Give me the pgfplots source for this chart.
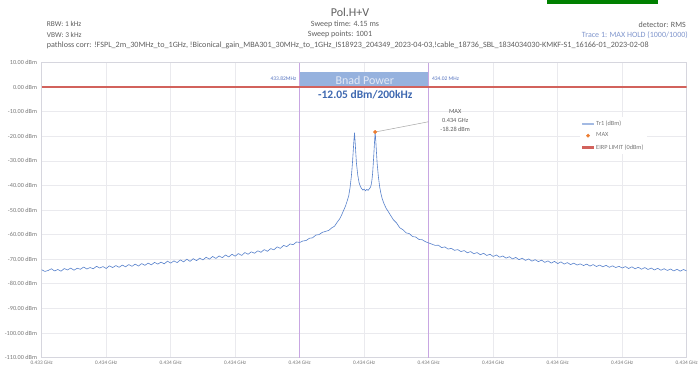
\documentclass[border=0pt]{standalone}
\usepackage{fontspec}
\setmainfont{Carlito}
\usepackage{pgfplots}
\pgfplotsset{compat=1.18}

\definecolor{txtgray}{RGB}{95,95,95}
\definecolor{tickgray}{RGB}{120,120,120}
\definecolor{axisgray}{RGB}{214,214,222}
\definecolor{gridgray}{RGB}{234,234,238}
\definecolor{tracecol}{RGB}{88,130,204}
\definecolor{markorange}{RGB}{237,125,49}
\definecolor{limitred}{RGB}{210,98,92}
\definecolor{bandpurple}{RGB}{200,166,226}
\definecolor{boxblue}{RGB}{150,178,222}
\definecolor{boxtext}{RGB}{228,234,246}
\definecolor{powerblue}{RGB}{62,104,176}
\definecolor{freqblue}{RGB}{86,116,192}
\definecolor{tracelabel}{RGB}{128,150,205}
\definecolor{barGreen}{RGB}{0,128,0}

% Trace 1, max hold; x = offset in kHz above the 433.42 MHz start frequency
\pgfplotstableread{
f    p
0    -74.3
5    -75.0
10   -74.6
15   -73.9
20   -74.8
25   -74.2
30   -74.9
35   -73.8
40   -74.4
45   -73.6
50   -74.5
55   -73.7
60   -74.1
65   -73.2
70   -74.0
75   -73.4
80   -73.9
85   -72.9
90   -73.6
95   -73.0
100  -73.8
105  -72.7
110  -73.4
115  -72.6
120  -73.3
125  -72.4
130  -73.1
135  -72.2
140  -72.9
145  -72.0
150  -72.8
155  -71.8
160  -72.5
165  -71.6
170  -72.3
175  -71.3
180  -72.0
185  -71.2
190  -71.9
195  -70.8
200  -71.6
205  -70.7
210  -71.4
215  -70.3
220  -71.1
225  -70.0
230  -70.9
235  -69.8
240  -70.6
245  -69.6
250  -70.3
255  -69.2
260  -70.0
265  -68.9
270  -69.7
275  -68.7
280  -69.4
285  -68.3
290  -69.1
295  -68.0
300  -68.8
305  -67.7
310  -68.5
315  -67.3
320  -68.0
325  -67.0
330  -67.6
335  -66.6
340  -67.2
345  -66.1
350  -66.8
355  -65.7
360  -66.2
365  -65.0
370  -65.6
375  -64.4
380  -64.9
385  -63.8
390  -64.1
395  -63.0
400  -63.2
405  -62.6
410  -62.4
415  -61.5
420  -61.3
425  -60.2
430  -60.0
435  -59.1
440  -58.7
445  -58.3
450  -57.2
454  -56.6
458  -55.0
462  -53.6
465  -52.0
468  -50.2
471  -48.4
474  -46.0
476  -44.2
478  -41.0
480  -36.5
481  -33.5
482  -30.0
483  -26.0
484  -21.8
485  -18.6
486  -22.5
487  -27.0
488  -31.0
490  -35.8
492  -38.8
494  -40.4
496  -41.3
498  -41.9
500  -41.5
502  -42.2
504  -41.6
506  -42.0
508  -41.4
510  -40.6
511  -39.5
512  -37.8
513  -35.2
514  -31.4
515  -27.0
516  -22.3
517  -18.28
518  -22.0
519  -26.5
520  -30.8
522  -36.5
524  -40.6
526  -43.4
528  -45.5
531  -47.6
534  -49.3
537  -50.5
540  -51.8
545  -53.9
550  -55.2
555  -57.2
560  -58.0
565  -59.3
570  -59.6
575  -60.8
580  -61.0
585  -62.0
590  -62.1
595  -62.9
600  -63.4
605  -63.9
610  -64.4
615  -64.3
620  -65.3
625  -65.0
630  -65.9
635  -65.6
640  -66.4
645  -66.1
650  -66.9
655  -66.5
660  -67.4
665  -66.9
670  -67.8
675  -67.3
680  -68.2
685  -67.6
690  -68.5
695  -68.0
700  -68.9
705  -68.3
710  -69.2
715  -68.7
720  -69.6
725  -69.0
730  -69.9
735  -69.3
740  -70.2
745  -69.6
750  -70.5
755  -69.9
760  -70.8
765  -70.2
770  -71.0
775  -70.4
780  -71.3
785  -70.7
790  -71.6
795  -70.9
800  -71.8
805  -71.1
810  -72.0
815  -71.4
820  -72.2
825  -71.6
830  -72.4
835  -71.9
840  -72.6
845  -72.0
850  -72.8
855  -72.2
860  -73.0
865  -72.4
870  -73.1
875  -72.5
880  -73.3
885  -72.7
890  -73.4
895  -72.9
900  -73.6
905  -73.0
910  -73.8
915  -73.1
920  -73.9
925  -73.3
930  -74.1
935  -73.4
940  -74.2
945  -73.6
950  -74.4
955  -73.7
960  -74.5
965  -73.9
970  -74.6
975  -74.0
980  -74.8
985  -74.1
990  -74.9
995  -74.2
1000 -74.8
}\tracedata

\begin{document}
\begin{tikzpicture}
\useasboundingbox (0pt,0pt) rectangle (698pt,368pt);
\fill[white] (0pt,0pt) rectangle (698pt,368pt);
\fill[barGreen] (546.7pt,364pt) rectangle (658.3pt,368pt);

% header block
\node[inner sep=0pt, text=txtgray, font=\fontsize{12}{14}\selectfont] at (350pt,355.5pt) {Pol.H+V};
\begin{scope}[every node/.style={inner sep=0pt, text=txtgray, font=\fontsize{8}{9}\selectfont}]
\node at (345pt,343.7pt) {Sweep time: 4.15 ms};
\node at (340pt,333.2pt) {Sweep points: 1001};
\node[anchor=west, font=\fontsize{7.4}{9}\selectfont] at (46.7pt,343.7pt) {RBW: 1 kHz};
\node[anchor=west, font=\fontsize{7.4}{9}\selectfont] at (46.7pt,333.2pt) {VBW: 3 kHz};
\node[anchor=east] at (686pt,343.2pt) {detector: RMS};
\node[anchor=east, text=tracelabel] at (688pt,333pt) {Trace 1: MAX HOLD (1000/1000)};
\node[anchor=west, font=\fontsize{8.1}{9}\selectfont] at (46.7pt,323pt) {pathloss corr: !FSPL\_2m\_30MHz\_to\_1GHz, !Biconical\_gain\_MBA301\_30MHz\_to\_1GHz\_IS18923\_204349\_2023-04-03,!cable\_18736\_SBL\_1834034030-KMKF-S1\_16166-01\_2023-02-08};
\end{scope}

\begin{axis}[
  at={(41.7pt,10.5pt)}, anchor=south west,
  scale only axis, width=645pt, height=295pt,
  xmin=0, xmax=1000, ymin=-110, ymax=10,
  xtick={0,100,...,1000},
  xticklabels={0.433 GHz,0.434 GHz,0.434 GHz,0.434 GHz,0.434 GHz,0.434 GHz,0.434 GHz,0.434 GHz,0.434 GHz,0.434 GHz,0.434 GHz},
  ytick={-110,-100,...,10},
  yticklabels={-110.00 dBm,-100.00 dBm,-90.00 dBm,-80.00 dBm,-70.00 dBm,-60.00 dBm,-50.00 dBm,-40.00 dBm,-30.00 dBm,-20.00 dBm,-10.00 dBm,0.00 dBm,10.00 dBm},
  axis line style={draw=axisgray, line width=0.8pt},
  grid=major, major grid style={draw=gridgray, line width=0.6pt},
  tick style={draw=none},
  ticklabel style={text=tickgray, inner sep=0pt},
  xticklabel style={font=\fontsize{5.3}{6}\selectfont, yshift=-3.5pt},
  yticklabel style={font=\fontsize{6.2}{7}\selectfont, xshift=-4.5pt},
  legend style={at={(0.835,0.815)}, anchor=north west, draw=none, fill=white,
    font=\fontsize{6.3}{7}\selectfont, text=tickgray, inner sep=1.5pt, row sep=2pt,
    /tikz/every even column/.append style={column sep=2pt}},
  legend cell align=left,
]
% 200 kHz band-power window: edges as thin filled strips, and the title box
\addplot[fill=bandpurple, draw=none, forget plot] coordinates {(399.2,-110) (400.8,-110) (400.8,10) (399.2,10)} -- cycle;
\addplot[fill=bandpurple, draw=none, forget plot] coordinates {(599.2,-110) (600.8,-110) (600.8,10) (599.2,10)} -- cycle;
\addplot[fill=boxblue, draw=none, forget plot] coordinates {(400.8,0.4) (599.2,0.4) (599.2,6.0) (400.8,6.0)} -- cycle;

\addplot[color=tracecol, line width=0.6pt, line join=round,
  legend image code/.code={\fill[color=tracecol!55] (0pt,-0.3pt) rectangle (11pt,0.3pt);}]
  table[x=f, y=p] {\tracedata};
\addlegendentry{Tr1 (dBm)}

\addplot[only marks, mark=*, mark size=1.7pt, color=markorange,
  legend image code/.code={\fill[color=markorange] (5.5pt,0pt) circle (1.7pt);}]
  coordinates {(517,-18.28)};
\addlegendentry{MAX}

\addplot[color=limitred, line width=1.2pt,
  legend image code/.code={\fill[color=limitred] (0pt,-0.6pt) rectangle (11pt,0.6pt);}]
  coordinates {(0,0) (1000,0)};
\addlegendentry{EIRP LIMIT (0dBm)}

% annotations
\node[inner sep=0pt, text=boxtext, font=\fontsize{12}{14}\selectfont] at (axis cs:501,2.6) {Bnad Power};
\node[inner sep=0pt, text=powerblue, font=\fontsize{11.5}{13}\bfseries\selectfont] at (axis cs:501.6,-2.97) {-12.05 dBm/200kHz};
\node[inner sep=0pt, anchor=east, text=freqblue, font=\fontsize{5.5}{6}\selectfont] at (axis cs:395,3.5) {433.82MHz};
\node[inner sep=0pt, anchor=west, text=freqblue, font=\fontsize{5.5}{6}\selectfont] at (axis cs:605,3.5) {434.02 MHz};
\draw[color=black!35, line width=0.5pt] (axis cs:517,-18.28) -- (axis cs:599.8,-14.1);
\node[inner sep=0pt, align=center, text=txtgray, font=\fontsize{6.3}{9}\selectfont] at (axis cs:641,-13.7) {MAX\\0.434 GHz\\-18.28 dBm};
\end{axis}
\end{tikzpicture}
\end{document}
